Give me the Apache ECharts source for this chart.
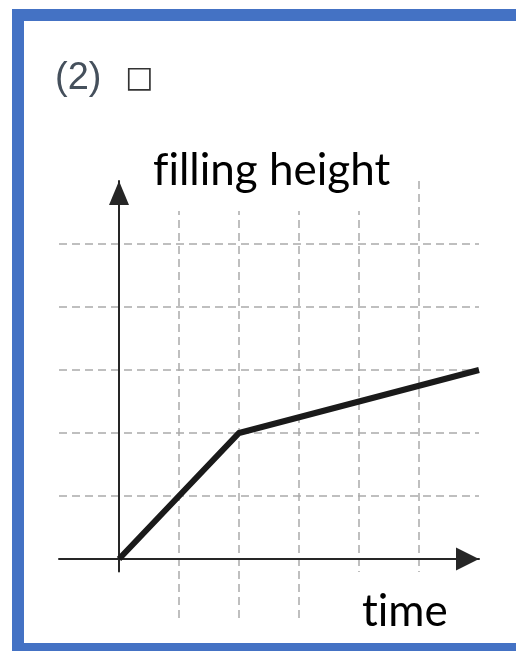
<!DOCTYPE html>
<html lang="en">
<head>
<meta charset="UTF-8">
<title>filling height</title>
<script src="https://cdn.jsdelivr.net/npm/echarts@6/dist/echarts.min.js"></script>
<style>
  html, body { margin: 0; padding: 0; background: #fff; overflow: hidden; }
  #chart { width: 516px; height: 651px; }
</style>
</head>
<body>
<div id="chart"></div>
<script>
// polyline, in grid units
var timeVals = [0, 2, 6];
var heightVals = [0, 2, 3];

// axis ranges / ticks (one grid square = 1)
var xRange = [-1, 6];
var yRange = [-1, 6];
var gridTicks = [-1, 0, 1, 2, 3, 4, 5, 6];
var yAxisFoot = -0.2;   // vertical axis pokes a little below the origin

var axisColor = '#262626';
var gridColor = '#ababab';

// plot box
var plotLeft = 59, plotTop = 181, plotW = 420, plotH = 441;
var unitY = plotH / (yRange[1] - yRange[0]);

// dashed lines only at 1..5, the rest stay invisible
var splitColors = gridTicks.map(function (t) {
    return (t > 0 && t < 6) ? gridColor : 'rgba(0,0,0,0)';
});

var myChart = echarts.init(document.getElementById('chart'));

var splitLine = {
    show: true,
    lineStyle: { color: splitColors, type: [8, 5], width: 1.5 }
};
var arrowLine = function (size) {
    return {
        show: true,
        onZero: true,
        symbol: ['none', 'triangle'],
        symbolSize: size,
        symbolOffset: [0, -size[1] / 2],
        lineStyle: { color: axisColor, width: 2 }
    };
};
var hidden = { show: false };

option = {
    animation: false,
    backgroundColor: '#fff',
    grid: [
        // main plot: dashed grid, time axis, data
        { left: plotLeft, top: plotTop, width: plotW, height: plotH },
        // only carries the vertical axis (starts a bit under the origin)
        { left: plotLeft, top: plotTop, width: plotW, height: (yRange[1] - yAxisFoot) * unitY }
    ],
    xAxis: [{
        gridIndex: 0,
        type: 'value',
        min: xRange[0],
        max: xRange[1],
        interval: 1,
        axisLine: arrowLine([23, 23]),
        axisTick: hidden,
        axisLabel: hidden,
        splitLine: splitLine
    }, {
        gridIndex: 1,
        type: 'value',
        min: xRange[0],
        max: xRange[1],
        show: false
    }],
    yAxis: [{
        gridIndex: 0,
        type: 'value',
        min: yRange[0],
        max: yRange[1],
        interval: 1,
        axisLine: hidden,
        axisTick: hidden,
        axisLabel: hidden,
        splitLine: splitLine
    }, {
        gridIndex: 1,
        type: 'value',
        min: yAxisFoot,
        max: yRange[1],
        axisLine: arrowLine([20, 24]),
        axisTick: hidden,
        axisLabel: hidden,
        splitLine: hidden
    }],
    series: [{
        name: 'filling height',
        type: 'line',
        xAxisIndex: 0,
        yAxisIndex: 0,
        data: timeVals.map(function (t, i) { return [t, heightVals[i]]; }),
        showSymbol: false,
        symbol: 'none',
        lineStyle: { color: '#1a1a1a', width: 6, join: 'miter', cap: 'butt' },
        z: 5
    }],
    graphic: [
        {
            type: 'text', left: 55, top: 60, z: 20,
            style: { text: '(2)', font: '38px "Liberation Sans"', fill: '#45505c' }
        },
        {
            type: 'text', left: 125, top: 64, z: 20,
            style: { text: '\u25A1', font: '30px "DejaVu Sans"', fill: '#333' }
        },
        {
            type: 'text', left: 145, top: 145, z: 20,
            style: {
                text: 'f\u200Cilling height', font: '44px Lato', fill: '#000',
                backgroundColor: '#fff', padding: [4, 8, 18, 8]
            }
        },
        {
            type: 'text', left: 354, top: 572, z: 20,
            style: {
                text: 't\u200Cime', font: '44px Lato', fill: '#000',
                backgroundColor: '#fff', padding: [18, 4, 4, 8]
            }
        },
        {
            // frame: left, top and bottom edges only (right side is cut off)
            type: 'polyline', z: 30, silent: true,
            shape: { points: [[522, 15], [18, 15], [18, 649], [522, 649]] },
            style: { fill: null, stroke: '#4472C4', lineWidth: 12 }
        }
    ]
};

myChart.setOption(option);
</script>
</body>
</html>
